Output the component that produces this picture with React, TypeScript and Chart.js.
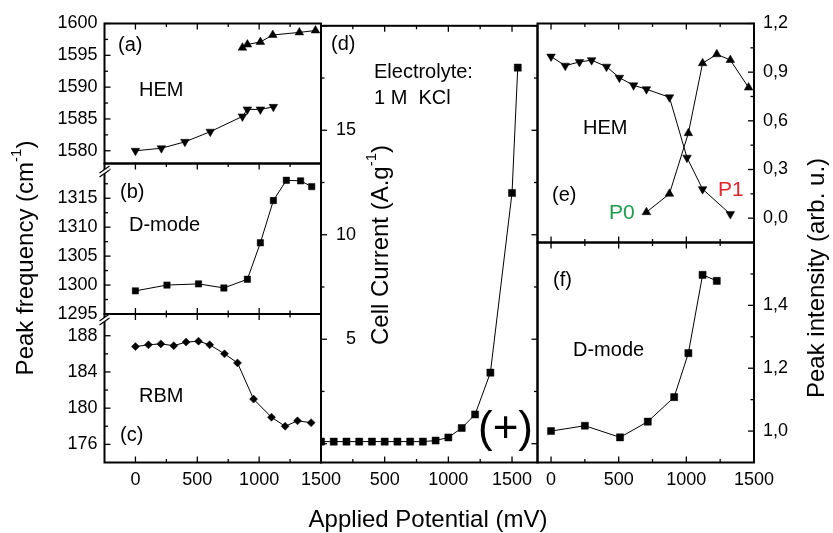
import React, { useEffect, useRef } from 'react';
import { Chart, registerables } from 'chart.js';
Chart.register(...registerables);

const FONT = '"Liberation Sans", Arial, Helvetica, sans-serif';
Chart.defaults.font.family = FONT;

// ---------- data ----------
// (a) HEM frequency
const hemUpX = [865, 905, 1010, 1110, 1325, 1455];
const hemUpY = [1596.2, 1596.7, 1597.1, 1598.2, 1598.6, 1598.9];
const hemDownX = [0, 210, 400, 605, 865, 905, 1010, 1115];
const hemDownY = [1580.0, 1580.4, 1581.4, 1583.0, 1585.4, 1586.5, 1586.5, 1586.9];
// (b) D-mode frequency
const dModeX = [0, 255, 510, 715, 905, 1010, 1115, 1220, 1335, 1425];
const dModeY = [1299.0, 1300.0, 1300.2, 1299.5, 1301.0, 1307.3, 1314.6, 1318.1, 1318.0, 1317.0];
// (c) RBM frequency
const rbmX = [0, 105, 205, 310, 410, 510, 600, 720, 825, 955, 1100, 1210, 1310, 1420];
const rbmY = [186.8, 187.0, 187.1, 186.9, 187.3, 187.4, 187.0, 186.0, 185.0, 181.0, 179.0, 178.0, 178.6, 178.4];
// (d) cell current
const currentX = [0, 100, 200, 300, 400, 500, 600, 700, 800, 900, 1000, 1105, 1210, 1330, 1500, 1545];
const currentY = [0.1, 0.1, 0.1, 0.1, 0.1, 0.1, 0.1, 0.1, 0.1, 0.15, 0.3, 0.75, 1.4, 3.4, 12.0, 18.0];
// (e) HEM intensity
const p1X = [0, 105, 210, 300, 410, 505, 610, 705, 875, 1005, 1120, 1325];
const p1Y = [0.996, 0.94, 0.963, 0.974, 0.934, 0.866, 0.819, 0.795, 0.745, 0.373, 0.179, 0.025];
const p0X = [705, 875, 1015, 1120, 1225, 1325, 1460];
const p0Y = [0.037, 0.15, 0.524, 0.955, 1.01, 0.975, 0.805];
// (f) D-mode intensity
const dIntX = [0, 250, 510, 715, 910, 1015, 1120, 1225];
const dIntY = [1.0, 1.017, 0.98, 1.03, 1.108, 1.248, 1.497, 1.478];

// tick labels
const xLabelsLeft = [0, 500, 1000, 1500];
const xLabelsMid = [500, 1000, 1500];
const xLabelsRight = [0, 500, 1000, 1500];
const yLabelsA = [1580, 1585, 1590, 1595, 1600];
const yLabelsB = [1295, 1300, 1305, 1310, 1315];
const yLabelsC = [176, 180, 184, 188];
const yLabelsD = [5, 10, 15];
const yLabelsE = [0, 0.3, 0.6, 0.9, 1.2];
const yLabelsF = [1.0, 1.2, 1.4];

// ---------- helpers ----------
const pts = (xs: number[], ys: number[]) => xs.map((x, i) => ({ x, y: ys[i] }));

function series(xs: number[], ys: number[], style: string, radius: number, rotation = 0) {
  return {
    data: pts(xs, ys),
    showLine: true,
    borderColor: '#000',
    borderWidth: 1,
    backgroundColor: '#000',
    pointStyle: style,
    pointRadius: radius,
    pointHoverRadius: radius,
    pointRotation: rotation,
    pointBackgroundColor: '#000',
    pointBorderColor: '#000',
    pointBorderWidth: 0.5,
    tension: 0,
    clip: 0,
  };
}

type AxisOpt = {
  axis: 'x' | 'y';
  position: string;
  min: number;
  max: number;
  labels: number[];
  show: boolean;
  size: number;
  pad: number;
  comma?: boolean;
  mirror?: boolean;
};

function linAxis(o: AxisOpt) {
  return {
    type: 'linear',
    axis: o.axis,
    position: o.position,
    min: o.min,
    max: o.max,
    grid: { display: false, drawTicks: false, drawOnChartArea: false },
    border: { display: false },
    ticks: {
      display: o.show,
      padding: o.pad,
      mirror: !!o.mirror,
      crossAlign: o.mirror ? 'far' : 'near',
      autoSkip: false,
      maxRotation: 0,
      minRotation: 0,
      color: '#000',
      font: { family: FONT, size: 18 },
      callback: (v: number) => (o.comma ? Number(v).toFixed(1).replace('.', ',') : String(v)),
    },
    afterBuildTicks: (s: any) => {
      s.ticks = o.labels.map((v) => ({ value: v }));
    },
    afterFit: (s: any) => {
      if (o.axis === 'x') s.height = o.size;
      else s.width = o.size;
    },
  };
}

type Mark = { id: string; side: 'top' | 'bottom' | 'left' | 'right'; major: number[]; minor: number[] };
type Txt = { t: string; x: number; y: number; size: number; color?: string };
type Rich = { parts: { t: string; sup?: boolean }[]; x: number; y: number; size: number; rot: boolean };
type Spec = { marks: Mark[]; texts: Txt[]; breaks: { x: number; y: number }[]; titles: Rich[] };

function drawRich(ctx: CanvasRenderingContext2D, r: Rich) {
  ctx.save();
  ctx.translate(r.x, r.y);
  if (r.rot) ctx.rotate(-Math.PI / 2);
  ctx.textBaseline = 'middle';
  ctx.textAlign = 'left';
  const supSize = Math.round(r.size * 0.62);
  let total = 0;
  const widths = r.parts.map((p) => {
    ctx.font = `${p.sup ? supSize : r.size}px ${FONT}`;
    const w = ctx.measureText(p.t).width;
    total += w;
    return w;
  });
  let x = -total / 2;
  r.parts.forEach((p, i) => {
    ctx.font = `${p.sup ? supSize : r.size}px ${FONT}`;
    ctx.fillStyle = '#000';
    ctx.fillText(p.t, x, p.sup ? -r.size * 0.4 : 0);
    x += widths[i];
  });
  ctx.restore();
}

function decor(spec: Spec) {
  return {
    id: 'decor',
    afterDraw(chart: any) {
      const ctx: CanvasRenderingContext2D = chart.ctx;
      const a = chart.chartArea;
      ctx.save();
      ctx.strokeStyle = '#000';
      ctx.lineWidth = 1.3;
      for (const m of spec.marks) {
        const s = chart.scales[m.id];
        const draw = (v: number, len: number) => {
          if (v < s.min - 1e-9 || v > s.max + 1e-9) return;
          const p = s.getPixelForValue(v);
          ctx.beginPath();
          if (m.side === 'top') { ctx.moveTo(p, a.top); ctx.lineTo(p, a.top + len); }
          if (m.side === 'bottom') { ctx.moveTo(p, a.bottom); ctx.lineTo(p, a.bottom - len); }
          if (m.side === 'left') { ctx.moveTo(a.left, p); ctx.lineTo(a.left + len, p); }
          if (m.side === 'right') { ctx.moveTo(a.right, p); ctx.lineTo(a.right - len, p); }
          ctx.stroke();
        };
        m.major.forEach((v) => draw(v, 6));
        m.minor.forEach((v) => draw(v, 3.5));
      }
      ctx.lineWidth = 2;
      ctx.strokeRect(a.left, a.top, a.right - a.left, a.bottom - a.top);
      for (const b of spec.breaks) {
        ctx.beginPath();
        ctx.moveTo(b.x - 5, b.y + 3);
        ctx.lineTo(b.x + 5, b.y - 4);
        ctx.lineTo(b.x + 5, b.y);
        ctx.lineTo(b.x - 5, b.y + 7);
        ctx.closePath();
        ctx.fillStyle = '#fff';
        ctx.fill();
        ctx.lineWidth = 1.2;
        ctx.beginPath();
        ctx.moveTo(b.x - 5, b.y + 3);
        ctx.lineTo(b.x + 5, b.y - 4);
        ctx.moveTo(b.x - 5, b.y + 7);
        ctx.lineTo(b.x + 5, b.y);
        ctx.stroke();
      }
      ctx.textBaseline = 'middle';
      ctx.textAlign = 'left';
      for (const t of spec.texts) {
        ctx.font = `${t.size}px ${FONT}`;
        ctx.fillStyle = t.color || '#000';
        ctx.fillText(t.t, t.x, t.y);
      }
      for (const r of spec.titles) drawRich(ctx, r);
      ctx.restore();
    },
  };
}

// ---------- layout ----------
const W = 833;
const H = 533;
const L1 = 104.5, M1 = 321, M2 = 537.5, R1 = 754;
const T0 = 23.5, AB = 163.5, BC = 314, EF = 242.5, B0 = 462.5;

type Panel = {
  rect: { l: number; r: number; t: number; b: number };
  x: AxisOpt;
  y: AxisOpt;
  datasets: any[];
  spec: Spec;
};

const xMajorL = [0, 500, 1000, 1500];
const xMinorL = [250, 750, 1250];

const panels: Panel[] = [
  {
    rect: { l: L1, r: M1, t: T0, b: AB },
    x: { axis: 'x', position: 'bottom', min: -250, max: 1500, labels: [], show: false, size: 0, pad: 0 },
    y: { axis: 'y', position: 'left', min: 1578, max: 1600, labels: yLabelsA, show: true, size: 70, pad: 7 },
    datasets: [series(hemUpX, hemUpY, 'triangle', 5), series(hemDownX, hemDownY, 'triangle', 5, 180)],
    spec: {
      marks: [
        { id: 'x', side: 'top', major: xMajorL, minor: xMinorL },
        { id: 'y', side: 'left', major: [1580, 1585, 1590, 1595, 1600], minor: [1582.5, 1587.5, 1592.5, 1597.5] },
      ],
      texts: [
        { t: '(a)', x: 118, y: 45, size: 20 },
        { t: 'HEM', x: 139, y: 90, size: 20 },
      ],
      breaks: [],
      titles: [],
    },
  },
  {
    rect: { l: L1, r: M1, t: AB, b: BC },
    x: { axis: 'x', position: 'bottom', min: -250, max: 1500, labels: [], show: false, size: 0, pad: 0 },
    y: { axis: 'y', position: 'left', min: 1295, max: 1321, labels: yLabelsB, show: true, size: 70, pad: 7 },
    datasets: [series(dModeX, dModeY, 'rect', 4.5)],
    spec: {
      marks: [
        { id: 'x', side: 'top', major: xMajorL, minor: xMinorL },
        { id: 'x', side: 'bottom', major: xMajorL, minor: xMinorL },
        { id: 'y', side: 'left', major: [1295, 1300, 1305, 1310, 1315, 1320], minor: [1297.5, 1302.5, 1307.5, 1312.5, 1317.5] },
      ],
      texts: [
        { t: '(b)', x: 120, y: 192, size: 20 },
        { t: 'D-mode', x: 129, y: 225, size: 20 },
      ],
      breaks: [{ x: L1, y: 170 }],
      titles: [],
    },
  },
  {
    rect: { l: L1, r: M1, t: BC, b: B0 },
    x: { axis: 'x', position: 'bottom', min: -250, max: 1500, labels: xLabelsLeft, show: true, size: H - B0, pad: 7 },
    y: { axis: 'y', position: 'left', min: 174, max: 190.4, labels: yLabelsC, show: true, size: 70, pad: 7 },
    datasets: [series(rbmX, rbmY, 'rectRot', 4)],
    spec: {
      marks: [
        { id: 'x', side: 'top', major: xMajorL, minor: xMinorL },
        { id: 'x', side: 'bottom', major: xMajorL, minor: xMinorL },
        { id: 'y', side: 'left', major: [176, 180, 184, 188], minor: [178, 182, 186, 190] },
      ],
      texts: [
        { t: 'RBM', x: 139, y: 396, size: 20 },
        { t: '(c)', x: 120, y: 435, size: 20 },
      ],
      breaks: [{ x: L1, y: 318 }],
      titles: [],
    },
  },
  {
    rect: { l: M1, r: M2, t: T0, b: B0 },
    x: { axis: 'x', position: 'bottom', min: 0, max: 1700, labels: xLabelsMid, show: true, size: H - B0, pad: 7 },
    y: { axis: 'y', position: 'left', min: -0.9, max: 20, labels: yLabelsD, show: true, size: 10, pad: 15, mirror: true },
    datasets: [series(currentX, currentY, 'rect', 5)],
    spec: {
      marks: [
        { id: 'x', side: 'top', major: [0, 500, 1000, 1500], minor: [250, 750, 1250] },
        { id: 'x', side: 'bottom', major: [0, 500, 1000, 1500], minor: [250, 750, 1250] },
        { id: 'y', side: 'left', major: [0, 5, 10, 15, 20], minor: [2.5, 7.5, 12.5, 17.5] },
        { id: 'y', side: 'right', major: [0, 5, 10, 15, 20], minor: [2.5, 7.5, 12.5, 17.5] },
      ],
      texts: [
        { t: '(d)', x: 331, y: 44, size: 20 },
        { t: 'Electrolyte:', x: 374, y: 72, size: 20 },
        { t: '1 M  KCl', x: 374, y: 98, size: 20 },
        { t: '(+)', x: 478, y: 430, size: 44 },
      ],
      breaks: [],
      titles: [],
    },
  },
  {
    rect: { l: M2, r: R1, t: T0, b: EF },
    x: { axis: 'x', position: 'bottom', min: -100, max: 1500, labels: [], show: false, size: 0, pad: 0 },
    y: { axis: 'y', position: 'right', min: -0.15, max: 1.2, labels: yLabelsE, show: true, size: 50, pad: 9, comma: true },
    datasets: [series(p1X, p1Y, 'triangle', 5, 180), series(p0X, p0Y, 'triangle', 5)],
    spec: {
      marks: [
        { id: 'x', side: 'top', major: [0, 500, 1000, 1500], minor: [250, 750, 1250] },
        { id: 'x', side: 'bottom', major: [0, 500, 1000, 1500], minor: [250, 750, 1250] },
        { id: 'y', side: 'right', major: [0, 0.3, 0.6, 0.9, 1.2], minor: [0.15, 0.45, 0.75, 1.05] },
      ],
      texts: [
        { t: 'HEM', x: 583, y: 128, size: 20 },
        { t: '(e)', x: 552, y: 195, size: 20 },
        { t: 'P0', x: 609, y: 213, size: 21, color: '#1d9c4b' },
        { t: 'P1', x: 718, y: 190, size: 21, color: '#e5242b' },
      ],
      breaks: [],
      titles: [],
    },
  },
  {
    rect: { l: M2, r: R1, t: EF, b: B0 },
    x: { axis: 'x', position: 'bottom', min: -100, max: 1500, labels: xLabelsRight, show: true, size: H - B0, pad: 7 },
    y: { axis: 'y', position: 'right', min: 0.9, max: 1.6, labels: yLabelsF, show: true, size: 50, pad: 9, comma: true },
    datasets: [series(dIntX, dIntY, 'rect', 5)],
    spec: {
      marks: [
        { id: 'x', side: 'top', major: [0, 500, 1000, 1500], minor: [250, 750, 1250] },
        { id: 'x', side: 'bottom', major: [0, 500, 1000, 1500], minor: [250, 750, 1250] },
        { id: 'y', side: 'right', major: [1.0, 1.2, 1.4, 1.6], minor: [1.1, 1.3, 1.5] },
      ],
      texts: [
        { t: '(f)', x: 553, y: 280, size: 20 },
        { t: 'D-mode', x: 573, y: 350, size: 20 },
      ],
      breaks: [],
      titles: [
        { parts: [{ t: 'Peak frequency (cm' }, { t: '-1', sup: true }, { t: ')' }], x: 26, y: 258, size: 24, rot: true },
        { parts: [{ t: 'Cell Current (A.g' }, { t: '-1', sup: true }, { t: ')' }], x: 381, y: 245, size: 24, rot: true },
        { parts: [{ t: 'Peak intensity (arb. u.)' }], x: 817, y: 278, size: 24, rot: true },
        { parts: [{ t: 'Applied Potential (mV)' }], x: 428, y: 520, size: 24, rot: false },
      ],
    },
  },
];

function buildConfig(p: Panel): any {
  const { l, r, t, b } = p.rect;
  const padLeft = p.y.position === 'left' ? l - p.y.size : l;
  const padRight = p.y.position === 'right' ? W - r - p.y.size : W - r;
  const padBottom = H - b - p.x.size;
  return {
    type: 'scatter',
    data: { datasets: p.datasets },
    options: {
      animation: false,
      responsive: false,
      devicePixelRatio: 1,
      events: [],
      layout: { padding: { left: padLeft, right: padRight, top: t, bottom: padBottom } },
      plugins: { legend: { display: false }, tooltip: { enabled: false }, title: { display: false } },
      scales: { x: linAxis(p.x), y: linAxis(p.y) },
    },
    plugins: [decor(p.spec)],
  };
}

export default function App() {
  const refs = useRef<(HTMLCanvasElement | null)[]>([]);
  useEffect(() => {
    const charts = panels.map((p, i) => new Chart(refs.current[i] as HTMLCanvasElement, buildConfig(p)));
    return () => charts.forEach((c) => c.destroy());
  }, []);
  return (
    <div style={{ position: 'fixed', left: 0, top: 0, width: W, height: H, background: '#fff', overflow: 'hidden' }}>
      {panels.map((_, i) => (
        <canvas
          key={i}
          ref={(el) => {
            refs.current[i] = el;
          }}
          width={W}
          height={H}
          style={{ position: 'absolute', left: 0, top: 0 }}
        />
      ))}
    </div>
  );
}
